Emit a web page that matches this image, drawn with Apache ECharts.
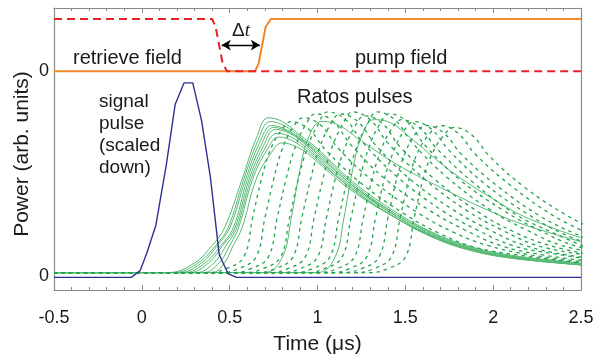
<!DOCTYPE html>
<html><head><meta charset="utf-8">
<script src="https://cdn.jsdelivr.net/npm/echarts@6/dist/echarts.min.js"></script>
<style>html,body{margin:0;padding:0;background:#fff}#c{width:602px;height:360px}</style>
</head><body><div id="c"></div>
<script>
// ---------- data ----------
const xTickLabels = ['-0.5', '0', '0.5', '1', '1.5', '2', '2.5'];

// top panel: control fields
const retrieveT = [-0.5, 0.40, 0.42, 0.44, 0.46, 0.485, 2.5];
const retrieveV = [1, 1, 0.85, 0.5, 0.15, 0, 0];
const pumpT = [-0.5, 0.645, 0.665, 0.685, 0.705, 0.735, 2.5];
const pumpV = [0, 0, 0.15, 0.5, 0.85, 1, 1];
const arrowStart = [0.455, 0.5];
const arrowEnd = [0.672, 0.5];

// bottom panel: signal pulse (scaled down)
const signalT = [-0.5, -0.06, -0.01, 0.03, 0.08, 0.14, 0.19, 0.24, 0.29, 0.34, 0.39, 0.44, 0.49, 0.54, 2.5];
const signalV = [-0.005, -0.005, 0.03, 0.125, 0.265, 0.58, 0.89, 1.0, 1.0, 0.805, 0.515, 0.115, 0.015, -0.005, -0.005];

// Ratos pulses, solid traces: [time, power]
const ratosSolid = [
  [[-0.5,0.02],[0.15,0.02],[0.3,0.07],[0.4,0.16],[0.47,0.25],[0.57,0.5],[0.65,0.71],[0.72,0.82],[0.8,0.8],[0.9,0.73],[1.0,0.66],[1.2,0.49],[1.45,0.33],[1.65,0.23],[1.85,0.16],[2.1,0.11],[2.5,0.07]],
  [[-0.5,0.02],[0.18,0.02],[0.32,0.07],[0.42,0.16],[0.49,0.25],[0.58,0.5],[0.66,0.7],[0.73,0.80],[0.81,0.78],[0.9,0.72],[1.0,0.65],[1.2,0.48],[1.45,0.32],[1.65,0.225],[1.85,0.155],[2.1,0.105],[2.5,0.065]],
  [[-0.5,0.02],[0.21,0.02],[0.34,0.07],[0.43,0.16],[0.50,0.25],[0.59,0.5],[0.67,0.69],[0.74,0.78],[0.82,0.76],[0.9,0.71],[1.0,0.64],[1.2,0.47],[1.45,0.32],[1.65,0.22],[1.85,0.15],[2.1,0.105],[2.5,0.065]],
  [[-0.5,0.02],[0.24,0.02],[0.36,0.07],[0.45,0.16],[0.52,0.25],[0.60,0.5],[0.68,0.68],[0.75,0.77],[0.83,0.75],[0.92,0.7],[1.0,0.63],[1.2,0.47],[1.45,0.31],[1.65,0.215],[1.85,0.15],[2.1,0.1],[2.5,0.06]],
  [[-0.5,0.02],[0.27,0.02],[0.38,0.07],[0.46,0.16],[0.53,0.25],[0.61,0.5],[0.69,0.67],[0.76,0.76],[0.84,0.74],[0.92,0.69],[1.0,0.62],[1.2,0.46],[1.45,0.31],[1.65,0.21],[1.85,0.145],[2.1,0.1],[2.5,0.06]],
  [[-0.5,0.02],[0.31,0.02],[0.41,0.07],[0.48,0.16],[0.54,0.25],[0.62,0.5],[0.70,0.66],[0.77,0.74],[0.85,0.72],[0.93,0.67],[1.0,0.61],[1.2,0.45],[1.45,0.30],[1.65,0.21],[1.85,0.145],[2.1,0.1],[2.5,0.06]],
  [[-0.5,0.02],[0.35,0.02],[0.44,0.07],[0.50,0.16],[0.55,0.25],[0.63,0.5],[0.71,0.65],[0.78,0.72],[0.86,0.70],[0.94,0.65],[1.0,0.60],[1.2,0.45],[1.45,0.30],[1.65,0.205],[1.85,0.14],[2.1,0.095],[2.5,0.06]],
  [[-0.5,0.02],[0.40,0.02],[0.47,0.07],[0.52,0.16],[0.57,0.25],[0.65,0.5],[0.73,0.63],[0.80,0.69],[0.88,0.67],[0.95,0.63],[1.0,0.59],[1.2,0.44],[1.45,0.30],[1.65,0.205],[1.85,0.14],[2.1,0.095],[2.5,0.06]],
  [[-0.5,0.02],[0.70,0.02],[0.80,0.1],[0.85,0.3],[0.90,0.55],[0.95,0.72],[1.02,0.80],[1.1,0.79],[1.25,0.70],[1.45,0.58],[1.7,0.46],[2.0,0.33],[2.2,0.26],[2.5,0.18]],
  [[-0.5,0.02],[1.00,0.02],[1.10,0.1],[1.15,0.3],[1.20,0.55],[1.25,0.72],[1.32,0.81],[1.4,0.80],[1.55,0.70],[1.75,0.55],[2.0,0.40],[2.2,0.30],[2.5,0.20]]
];

// Ratos pulses, dashed traces: [time, power]
const ratosDashed = [
  [[-0.5,0.02],[0.38,0.02],[0.48,0.04],[0.58,0.1],[0.63,0.3],[0.68,0.5],[0.73,0.65],[0.79,0.75],[0.85,0.80],[0.95,0.76],[1.05,0.65],[1.25,0.48],[1.5,0.32],[1.7,0.22],[1.9,0.15],[2.15,0.11],[2.5,0.07]],
  [[-0.5,0.02],[0.45,0.02],[0.55,0.04],[0.65,0.1],[0.70,0.3],[0.75,0.5],[0.80,0.66],[0.86,0.77],[0.92,0.82],[1.02,0.78],[1.12,0.66],[1.32,0.49],[1.57,0.33],[1.77,0.23],[1.97,0.16],[2.22,0.11],[2.57,0.07]],
  [[-0.5,0.02],[0.52,0.02],[0.62,0.04],[0.72,0.1],[0.77,0.3],[0.82,0.5],[0.87,0.66],[0.93,0.78],[0.99,0.84],[1.09,0.80],[1.19,0.68],[1.39,0.50],[1.64,0.34],[1.84,0.24],[2.04,0.16],[2.29,0.11],[2.64,0.07]],
  [[-0.5,0.02],[0.59,0.02],[0.69,0.04],[0.79,0.1],[0.84,0.3],[0.89,0.5],[0.94,0.66],[1.00,0.78],[1.06,0.85],[1.16,0.81],[1.26,0.69],[1.46,0.51],[1.71,0.34],[1.91,0.24],[2.11,0.16],[2.36,0.115],[2.71,0.07]],
  [[-0.5,0.02],[0.66,0.02],[0.76,0.04],[0.86,0.1],[0.91,0.3],[0.96,0.5],[1.01,0.66],[1.07,0.78],[1.13,0.84],[1.23,0.80],[1.33,0.68],[1.53,0.50],[1.78,0.34],[1.98,0.24],[2.18,0.16],[2.43,0.11],[2.78,0.07]],
  [[-0.5,0.02],[0.73,0.02],[0.83,0.04],[0.93,0.1],[0.98,0.3],[1.03,0.5],[1.08,0.66],[1.14,0.78],[1.20,0.85],[1.30,0.81],[1.40,0.69],[1.60,0.51],[1.85,0.34],[2.05,0.24],[2.25,0.16],[2.50,0.115]],
  [[-0.5,0.02],[0.80,0.02],[0.90,0.04],[1.00,0.1],[1.05,0.3],[1.10,0.5],[1.15,0.65],[1.21,0.77],[1.27,0.83],[1.37,0.79],[1.47,0.67],[1.67,0.50],[1.92,0.33],[2.12,0.23],[2.32,0.16],[2.57,0.11]],
  [[-0.5,0.02],[0.87,0.02],[0.97,0.04],[1.07,0.1],[1.12,0.3],[1.17,0.5],[1.22,0.66],[1.28,0.78],[1.34,0.85],[1.44,0.81],[1.54,0.69],[1.74,0.51],[1.99,0.34],[2.19,0.24],[2.39,0.16],[2.64,0.115]],
  [[-0.5,0.02],[0.94,0.02],[1.04,0.04],[1.14,0.1],[1.19,0.3],[1.24,0.5],[1.29,0.66],[1.35,0.78],[1.41,0.84],[1.51,0.80],[1.61,0.68],[1.81,0.50],[2.06,0.34],[2.26,0.24],[2.46,0.16],[2.71,0.11]],
  [[-0.5,0.02],[1.01,0.02],[1.11,0.04],[1.21,0.1],[1.26,0.3],[1.31,0.5],[1.36,0.65],[1.42,0.76],[1.48,0.81],[1.58,0.77],[1.68,0.66],[1.88,0.49],[2.13,0.32],[2.33,0.23],[2.53,0.15]],
  [[-0.5,0.02],[1.08,0.02],[1.18,0.04],[1.28,0.1],[1.33,0.3],[1.38,0.5],[1.43,0.64],[1.49,0.75],[1.55,0.80],[1.65,0.76],[1.75,0.65],[1.95,0.48],[2.20,0.32],[2.40,0.22],[2.60,0.15]],
  [[-0.5,0.02],[1.15,0.02],[1.25,0.04],[1.35,0.1],[1.40,0.3],[1.45,0.5],[1.50,0.64],[1.56,0.74],[1.62,0.78],[1.72,0.74],[1.82,0.63],[2.02,0.47],[2.27,0.31],[2.47,0.22],[2.67,0.15]],
  [[-0.5,0.02],[1.22,0.02],[1.32,0.04],[1.42,0.1],[1.47,0.3],[1.52,0.5],[1.57,0.64],[1.64,0.74],[1.70,0.78],[1.80,0.74],[1.90,0.63],[2.10,0.47],[2.35,0.31],[2.55,0.22]],
  [[-0.5,0.02],[1.30,0.02],[1.40,0.04],[1.50,0.1],[1.55,0.3],[1.60,0.5],[1.65,0.63],[1.72,0.73],[1.78,0.77],[1.88,0.73],[1.98,0.62],[2.18,0.46],[2.43,0.31],[2.63,0.22]]
];

// ---------- chart ----------
const FONT = '"Liberation Sans", Arial, sans-serif';
const frame = { show: true, onZero: false, lineStyle: { color: '#8a8a8a', width: 1.2 } };
const zip = (t, v) => t.map((x, i) => [x, v[i]]);

const series = [];
series.push({
  type: 'line', xAxisIndex: 0, yAxisIndex: 0, data: zip(retrieveT, retrieveV),
  showSymbol: false, z: 3,
  lineStyle: { color: '#e8202a', width: 2, type: [8, 5] },
  markLine: {
    silent: true, symbol: ['arrow', 'arrow'], symbolSize: [8, 9],
    lineStyle: { color: '#000', type: 'solid', width: 1.4 }, label: { show: false },
    data: [[{ coord: arrowStart }, { coord: arrowEnd }]]
  }
});
series.push({
  type: 'line', xAxisIndex: 0, yAxisIndex: 0, data: zip(pumpT, pumpV),
  showSymbol: false, z: 2,
  lineStyle: { color: '#f2862a', width: 2 }
});
ratosSolid.forEach(d => series.push({
  type: 'line', xAxisIndex: 1, yAxisIndex: 2, data: d, showSymbol: false,
  smooth: 0.4,
  lineStyle: { color: '#55b873', width: 1 }
}));
ratosDashed.forEach(d => series.push({
  type: 'line', xAxisIndex: 1, yAxisIndex: 2, data: d, showSymbol: false,
  smooth: 0.4,
  lineStyle: { color: '#24a44e', width: 1.3, type: [3.5, 4] }
}));
series.push({
  type: 'line', xAxisIndex: 1, yAxisIndex: 2, data: zip(signalT, signalV),
  showSymbol: false, z: 4,
  lineStyle: { color: '#2e3192', width: 1.4 }
});

const xBase = {
  type: 'value', min: -0.5, max: 2.5, interval: 0.5,
  axisLine: frame,
  axisTick: { show: true, inside: true, length: 5, lineStyle: { color: '#8a8a8a' } },
  minorTick: { show: true, splitNumber: 5, length: 3, lineStyle: { color: '#8a8a8a' } },
  splitLine: { show: false }
};
const yLabel = { customValues: [0], formatter: '{value}', color: '#1a1a1a', fontSize: 18, fontFamily: FONT, margin: 5 };

const option = {
  animation: false,
  grid: [
    { left: 54, right: 21, top: 8, height: 72 },
    { left: 54, right: 21, top: 80, height: 217 }
  ],
  xAxis: [
    Object.assign({}, xBase, { gridIndex: 0, position: 'top', axisLabel: { show: false } }),
    Object.assign({}, xBase, {
      gridIndex: 1, position: 'bottom',
      axisLabel: {
        color: '#1a1a1a', fontSize: 18, fontFamily: FONT, margin: 19,
        formatter: v => xTickLabels[Math.round((v + 0.5) / 0.5)] ?? ''
      },
      name: 'Time (\u03bcs)', nameLocation: 'middle', nameGap: 44,
      nameTextStyle: { color: '#1a1a1a', fontSize: 21, fontFamily: FONT }
    })
  ],
  yAxis: [
    { type: 'value', gridIndex: 0, min: -0.17, max: 1.21, axisLine: frame, axisTick: { show: false }, splitLine: { show: false }, axisLabel: yLabel },
    { type: 'value', gridIndex: 0, position: 'right', min: -0.17, max: 1.21, axisLine: frame, axisTick: { show: false }, splitLine: { show: false }, axisLabel: { show: false } },
    { type: 'value', gridIndex: 1, min: -0.07, max: 1.015, axisLine: frame, axisTick: { show: false }, splitLine: { show: false }, axisLabel: yLabel },
    { type: 'value', gridIndex: 1, position: 'right', min: -0.07, max: 1.015, axisLine: frame, axisTick: { show: false }, splitLine: { show: false }, axisLabel: { show: false } }
  ],
  graphic: [
    { type: 'text', x: 22, y: 154, rotation: Math.PI / 2, style: { text: 'Power (arb. units)', font: '21px ' + FONT, fill: '#1a1a1a', align: 'center', verticalAlign: 'middle' } },
    { type: 'text', x: 73, y: 58, style: { text: 'retrieve field', font: '20px ' + FONT, fill: '#1a1a1a', align: 'left', verticalAlign: 'middle' } },
    { type: 'text', x: 355, y: 58, style: { text: 'pump field', font: '20px ' + FONT, fill: '#1a1a1a', align: 'left', verticalAlign: 'middle' } },
    { type: 'text', x: 241, y: 31, style: { text: '{a|\u0394}{b|t}', align: 'center', verticalAlign: 'middle',
        rich: { a: { font: '19px ' + FONT, fill: '#1a1a1a' }, b: { font: 'italic 19px "Liberation Serif", serif', fill: '#1a1a1a' } } } },
    { type: 'text', x: 99, y: 91, style: { text: 'signal\npulse\n(scaled\ndown)', font: '19px ' + FONT, lineHeight: 22, fill: '#1a1a1a', align: 'left', verticalAlign: 'top' } },
    { type: 'text', x: 297, y: 97, style: { text: 'Ratos pulses', font: '20px ' + FONT, fill: '#1a1a1a', align: 'left', verticalAlign: 'middle' } }
  ],
  series
};
echarts.init(document.getElementById('c')).setOption(option);
</script>
</body></html>
